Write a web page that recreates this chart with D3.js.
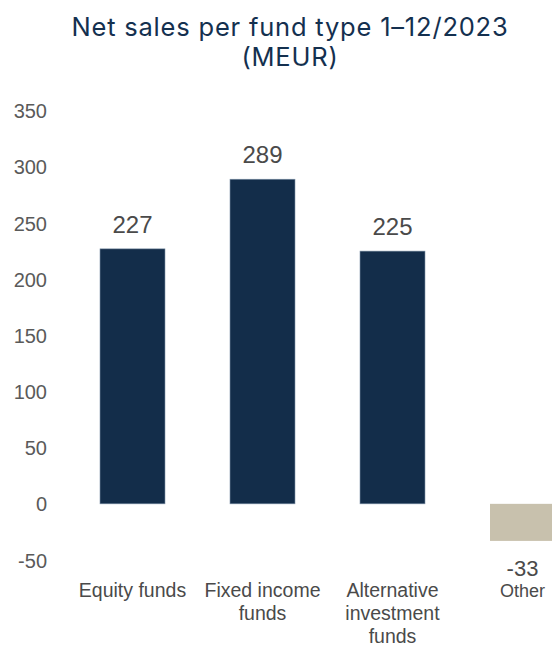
<!DOCTYPE html>
<html>
<head>
<meta charset="utf-8">
<script src="https://cdn.jsdelivr.net/npm/d3@7"></script>
<style>
  body { margin: 0; background: #fff; }
  svg text { font-family: "Liberation Sans", Arial, sans-serif; }
</style>
</head>
<body>
<svg id="chart" width="552" height="647"></svg>
<script>
// data
const categories = [["Equity funds"], ["Fixed income", "funds"], ["Alternative", "investment", "funds"], ["Other"]];
const values = [227, 289, 225, -33];
const barColors = ["#132d4a", "#132d4a", "#132d4a", "#c8c1ad"];
const yTicks = [-50, 0, 50, 100, 150, 200, 250, 300, 350];
const titleLines = ["Net sales per fund type 1\u201312/2023", "(MEUR)"];

const svg = d3.select("svg#chart");
const keys = categories.map(c => c.join(" "));

const x = d3.scaleBand().domain(keys).range([67.5, 587.5]).paddingInner(0.5).paddingOuter(0.25);
const y = d3.scaleLinear().domain([-50, 350]).range([560, 110.7]);

// title
svg.append("g").selectAll("text").data(titleLines)
   .join("text")
   .attr("x", 290)
   .attr("y", (d, i) => 36 + i * 30)
   .attr("text-anchor", "middle")
   .style("font-family", "Inter, 'Noto Sans', sans-serif")
   .style("font-size", "25.5px")
   .style("letter-spacing", "0.8px")
   .style("fill", "#14304f")
   .text(d => d);

// y axis, labels only
let leftAxis = d3.axisLeft(y).tickValues(yTicks).tickSize(0).tickPadding(0)
                 .tickFormat(d => String(d));
let yAxis = svg.append("g")
   .attr("class", "y axis")
   .attr("transform", "translate(47,0)")
   .call(leftAxis);
yAxis.select(".domain").remove();
yAxis.selectAll("text")
   .attr("dy", "0.35em")
   .style("font-family", "'Liberation Sans', Arial, sans-serif")
   .style("font-size", "20px")
   .style("fill", "#5a5a5a");

// bars
svg.append("g").selectAll("rect").data(values)
   .join("rect")
   .attr("x", (d, i) => x(keys[i]))
   .attr("width", x.bandwidth())
   .attr("y", d => y(Math.max(0, d)))
   .attr("height", d => Math.abs(y(d) - y(0)))
   .style("fill", (d, i) => barColors[i])
   .style("stroke", (d, i) => d < 0 ? "none" : "#7f93a8")
   .style("stroke-width", 0.6);

// value labels
svg.append("g").selectAll("text").data(values)
   .join("text")
   .attr("x", (d, i) => x(keys[i]) + x.bandwidth() / 2)
   .attr("y", d => d >= 0 ? y(d) - 16 : y(d) + 35)
   .attr("text-anchor", "middle")
   .style("font-size", d => d >= 0 ? "24px" : "22px")
   .style("fill", "#4a4a4a")
   .text(d => d);

// category labels
let cat = svg.append("g").selectAll("text").data(categories)
   .join("text")
   .attr("x", (d, i) => x(keys[i]) + x.bandwidth() / 2)
   .attr("y", 597)
   .attr("text-anchor", "middle")
   .style("font-size", (d, i) => i === 3 ? "18px" : "19.5px")
   .style("fill", "#4a4a4a");
cat.selectAll("tspan").data(d => d)
   .join("tspan")
   .attr("x", function() { return d3.select(this.parentNode).attr("x"); })
   .attr("dy", (d, i) => i === 0 ? 0 : 23)
   .text(d => d);
</script>
</body>
</html>
